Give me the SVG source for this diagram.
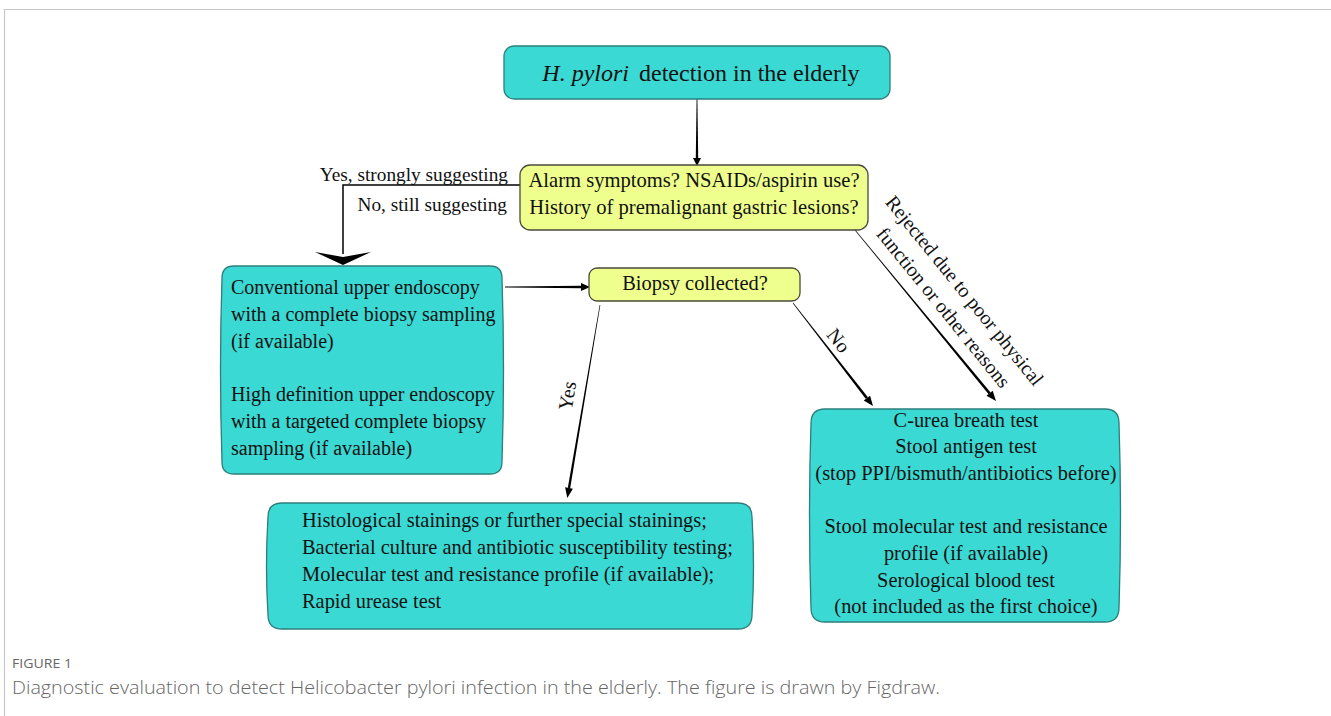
<svg xmlns="http://www.w3.org/2000/svg" width="1331" height="716" viewBox="0 0 1331 716">
<style>
.t{font-family:"Liberation Serif","Times New Roman",serif;fill:#111;}
.teal{fill:#3BD9D4;stroke:#2C7F7C;stroke-width:1.3;}
.yel{fill:#EFFF8E;stroke:#4A4A3A;stroke-width:1.3;}
.ink{fill:#000;}
.cap{font-family:"Open Sans","Liberation Sans",sans-serif;fill:#666;}
</style>
<rect width="1331" height="716" fill="#fff"/>
<g id="frame" stroke="#c8c8c8" stroke-width="1.2" fill="none">
<path d="M4.5,716 V9.5 H1331"/>
</g>
<g id="connectors">
<polygon class="ink" points="696.6,99 697.4,99 698.2,158 695.8,158"/>
<polygon class="ink" points="693,158 701,158 697,166"/>
<path d="M520,185 H343 V254" fill="none" stroke="#000" stroke-width="1.5"/>
<polygon class="ink" points="315,252 343,257 371,252 343,265"/>
<polygon class="ink" points="505,286.6 582,285.8 582,288.2 505,287.4"/>
<polygon class="ink" points="581,283 590,287 581,291"/>
<polygon class="ink" points="600.3,305.05 570.18,488.2 567.82,487.8 599.7,304.95"/>
<polygon class="ink" points="572.9,488.7 565.1,487.3 567.3,498"/>
<polygon class="ink" points="792.76,303.18 865.87,398.9 867.93,397.3 793.24,302.82"/>
<polygon class="ink" points="863.74,400.55 870.06,395.65 873,406"/>
<polygon class="ink" points="854.77,230.19 988.6,394.13 990.6,392.47 855.23,229.81"/>
<polygon class="ink" points="986.5,395.8 992.7,390.8 996,401"/>
<text class="t" font-size="19.3" x="508" y="181" text-anchor="end">Yes, strongly suggesting</text>
<text class="t" font-size="19.3" x="507" y="211" text-anchor="end">No, still suggesting</text>
<text class="t" font-size="20" transform="translate(568,396) rotate(-80)" x="0" y="6" text-anchor="middle">Yes</text>
<text class="t" font-size="20" transform="translate(838,341) rotate(52)" x="0" y="6" text-anchor="middle">No</text>
<g transform="translate(964,291) rotate(51)">
<text class="t" font-size="20" x="0" y="6" text-anchor="middle">Rejected due to poor physical</text>
<text class="t" font-size="20" x="0" y="33" text-anchor="middle">function or other reasons</text>
</g>
</g>
<g id="start">
<rect class="teal" x="504" y="46" width="386" height="53" rx="10" fill="#40E0DA"/>
<text class="t" font-size="24" x="701" y="81" text-anchor="middle"><tspan font-style="italic">H. pylori</tspan><tspan dx="10">detection in the elderly</tspan></text>
</g>
<g id="alarm">
<rect class="yel" x="520" y="165" width="348" height="65" rx="10"/>
<text class="t" font-size="20.6" x="694" y="187" text-anchor="middle">Alarm symptoms? NSAIDs/aspirin use?</text>
<text class="t" font-size="20.6" x="694" y="214" text-anchor="middle">History of premalignant gastric lesions?</text>
</g>
<g id="endoscopy">
<path class="teal" d="M234,266 H490 Q502,266 502,278 Q505,370 502,462 Q502,474 490,474 H234 Q222,474 222,462 Q219,370 222,278 Q222,266 234,266 Z"/>
<text class="t" font-size="20" x="231" y="294">Conventional upper endoscopy</text>
<text class="t" font-size="20" x="231" y="321">with a complete biopsy sampling</text>
<text class="t" font-size="20" x="231" y="348">(if available)</text>
<text class="t" font-size="20" x="231" y="401">High definition upper endoscopy</text>
<text class="t" font-size="20" x="231" y="428">with a targeted complete biopsy</text>
<text class="t" font-size="20" x="231" y="455">sampling (if available)</text>
</g>
<g id="biopsy">
<rect class="yel" x="589" y="268" width="211" height="33" rx="8"/>
<text class="t" font-size="20.4" x="695" y="290" text-anchor="middle">Biopsy collected?</text>
</g>
<g id="invasive">
<path class="teal" d="M282,503 H738 Q752,503 752,517 Q755,566 752,615 Q752,629 738,629 H282 Q268,629 268,615 Q265,566 268,517 Q268,503 282,503 Z"/>
<text class="t" font-size="20.4" x="302" y="527">Histological stainings or further special stainings;</text>
<text class="t" font-size="20.4" x="302" y="554">Bacterial culture and antibiotic susceptibility testing;</text>
<text class="t" font-size="20.4" x="302" y="581">Molecular test and resistance profile (if available);</text>
<text class="t" font-size="20.4" x="302" y="608">Rapid urease test</text>
</g>
<g id="noninvasive">
<path class="teal" d="M825,409 H1105 Q1119,409 1119,423 Q1122,515 1119,608 Q1119,622 1105,622 H825 Q811,622 811,608 Q808,515 811,423 Q811,409 825,409 Z"/>
<text class="t" font-size="20.4" x="966" y="427" text-anchor="middle">C-urea breath test</text>
<text class="t" font-size="20.4" x="966" y="453" text-anchor="middle">Stool antigen test</text>
<text class="t" font-size="20.4" x="966" y="480" text-anchor="middle">(stop PPI/bismuth/antibiotics before)</text>
<text class="t" font-size="20.4" x="966" y="533" text-anchor="middle">Stool molecular test and resistance</text>
<text class="t" font-size="20.4" x="966" y="560" text-anchor="middle">profile (if available)</text>
<text class="t" font-size="20.4" x="966" y="587" text-anchor="middle">Serological blood test</text>
<text class="t" font-size="20.4" x="966" y="613" text-anchor="middle">(not included as the first choice)</text>
</g>
<g id="caption">
<text class="cap" font-size="13.5" x="12" y="668" textLength="60" lengthAdjust="spacingAndGlyphs">FIGURE 1</text>
<text class="cap" font-size="18" font-weight="300" x="12" y="694" textLength="928" lengthAdjust="spacingAndGlyphs">Diagnostic evaluation to detect Helicobacter pylori infection in the elderly. The figure is drawn by Figdraw.</text>
</g>
</svg>
